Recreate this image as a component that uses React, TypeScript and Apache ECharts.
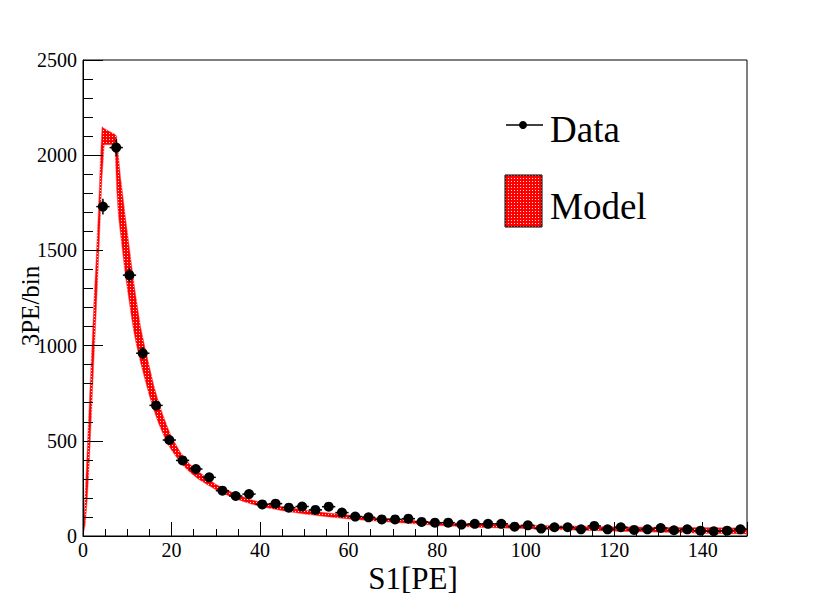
import React, { useEffect, useRef } from "react";
import * as echarts from "echarts";

// Data histogram (bin centres, counts)
const dataX = [4.5, 7.5, 10.5, 13.5, 16.5, 19.5, 22.5, 25.5, 28.5, 31.5, 34.5, 37.5, 40.5, 43.5, 46.5, 49.5, 52.5, 55.5, 58.5, 61.5, 64.5, 67.5, 70.5, 73.5, 76.5, 79.5, 82.5, 85.5, 88.5, 91.5, 94.5, 97.5, 100.5, 103.5, 106.5, 109.5, 112.5, 115.5, 118.5, 121.5, 124.5, 127.5, 130.5, 133.5, 136.5, 139.5, 142.5, 145.5, 148.5];
const dataY = [1730, 2040, 1370, 960, 686, 504, 397, 352, 308, 238, 210, 220, 166, 170, 149, 155, 137, 154, 123, 102, 98, 87, 87, 91, 74, 70, 70, 60, 64, 64, 64, 49, 56, 39, 46, 46, 35, 53, 35, 46, 32, 35, 42, 30, 35, 28, 25, 28, 35];
const binHalfWidth = 1.5;

// Model band (upper / lower envelopes)
const modelX = [0, 0.5, 1, 1.5, 2, 2.5, 3, 3.5, 4, 4.3, 4.8, 6, 7.2, 7.6, 8, 8.5, 9, 9.5, 10, 10.5, 11, 11.5, 12, 13, 14, 15, 16, 17, 18, 19, 20, 22, 24, 26, 28, 30, 32, 34, 36, 38, 40, 45, 50, 55, 60, 65, 70, 80, 90, 100, 110, 120, 130, 140, 150];
const modelUpper = [0, 230, 480, 740, 990, 1250, 1470, 1720, 2020, 2150, 2140, 2125, 2110, 2100, 2000, 1880, 1790, 1690, 1600, 1510, 1420, 1330, 1250, 1100, 990, 890, 790, 710, 640, 578, 520, 440, 380, 340, 305, 272, 248, 226, 207, 191, 178, 155, 137, 122, 110, 99, 90, 72, 63, 57, 53, 49, 46, 44, 42];
const modelLower = [0, 60, 200, 420, 680, 940, 1180, 1440, 1720, 1880, 2055, 2055, 2055, 1820, 1680, 1580, 1480, 1380, 1300, 1220, 1140, 1070, 1010, 910, 820, 735, 660, 595, 540, 490, 450, 385, 338, 300, 270, 243, 220, 200, 183, 168, 155, 133, 115, 101, 89, 80, 72, 55, 45, 38, 32, 25, 20, 14, 10];

// Axis ticks
const xMin = 0, xMax = 150, xMajor = 20, xMinor = 5;
const yMin = 0, yMax = 2500, yMajor = 500, yMinor = 100;

const FONT = "Liberation Serif";

export default function App() {
  const ref = useRef<HTMLDivElement>(null);
  useEffect(() => {
    if (!ref.current) return;
    document.body.style.margin = "0";
    const chart = echarts.init(ref.current, null, { renderer: "svg" });

    const svgTile =
      "data:image/svg+xml;utf8," +
      encodeURIComponent(
        "<svg xmlns='http://www.w3.org/2000/svg' width='3' height='3' shape-rendering='crispEdges'>" +
          "<rect x='0' y='0' width='3' height='3' fill='#ff0000'/>" +
          "<rect x='1' y='1' width='1' height='1' fill='#ffe0e0'/>" +
          "</svg>"
      );
    const pattern: any = { image: svgTile, repeat: "repeat", imageWidth: 3, imageHeight: 3 };

    const bandData = modelX.map((x, i) => [x, modelUpper[i], modelLower[i]]);
    const points = dataX.map((x, i) => [x, dataY[i]]);

    const tickLabel = { color: "#000", fontFamily: FONT, fontSize: 20, formatter: (v: number) => String(v) };

    chart.setOption({
      animation: false,
      backgroundColor: "#fff",
      grid: { left: 83, right: 83, top: 60, bottom: 60, show: true, borderColor: "#000", borderWidth: 1, backgroundColor: "transparent" },
      xAxis: [
        {
          type: "value", min: xMin, max: xMax, interval: xMajor, position: "bottom", z: 10,
          axisLine: { show: true, lineStyle: { color: "#000", width: 1 } },
          axisTick: { show: true, inside: true, length: 14, lineStyle: { color: "#000", width: 1 } },
          axisLabel: { ...tickLabel, margin: 4, formatter: (v: number) => (v === xMax ? "" : String(v)) },
          splitLine: { show: false },
        },
        {
          type: "value", min: xMin, max: xMax, interval: xMinor, position: "bottom", z: 10,
          axisLine: { show: false },
          axisTick: { show: true, inside: true, length: 7, lineStyle: { color: "#000", width: 1 } },
          axisLabel: { show: false },
          splitLine: { show: false },
        },
      ],
      yAxis: [
        {
          type: "value", min: yMin, max: yMax, interval: yMajor, position: "left", z: 10,
          axisLine: { show: true, lineStyle: { color: "#000", width: 1 } },
          axisTick: { show: true, inside: true, length: 20, lineStyle: { color: "#000", width: 1 } },
          axisLabel: { ...tickLabel, margin: 6 },
          splitLine: { show: false },
        },
        {
          type: "value", min: yMin, max: yMax, interval: yMinor, position: "left", z: 10,
          axisLine: { show: false },
          axisTick: { show: true, inside: true, length: 10, lineStyle: { color: "#000", width: 1 } },
          axisLabel: { show: false },
          splitLine: { show: false },
        },
      ],
      series: [
        {
          type: "custom", name: "Model", data: bandData, z: 2,
          encode: { x: 0, y: [1, 2] },
          clip: true,
          renderItem: (params: any, api: any) => {
            if (params.dataIndex !== 0) return null;
            const pts: number[][] = [];
            for (let i = 0; i < modelX.length; i++) pts.push(api.coord([modelX[i], modelUpper[i]]));
            for (let i = modelX.length - 1; i >= 0; i--) pts.push(api.coord([modelX[i], modelLower[i]]));
            return {
              type: "polygon",
              shape: { points: pts },
              style: { fill: pattern, stroke: "#ff5050", lineWidth: 0.5 },
            };
          },
        },
        {
          type: "custom", name: "errors", data: points, z: 4,
          encode: { x: 0, y: 1 },
          renderItem: (params: any, api: any) => {
            const x = api.value(0);
            const y = api.value(1);
            const e = Math.sqrt(y);
            const p = api.coord([x, y]);
            const pl = api.coord([x - binHalfWidth, y]);
            const pr = api.coord([x + binHalfWidth, y]);
            const pt = api.coord([x, y + e]);
            const pb = api.coord([x, y - e]);
            return {
              type: "group",
              children: [
                { type: "line", shape: { x1: pl[0], y1: p[1], x2: pr[0], y2: p[1] }, style: { stroke: "#000", lineWidth: 1.5 } },
                { type: "line", shape: { x1: p[0], y1: pt[1], x2: p[0], y2: pb[1] }, style: { stroke: "#000", lineWidth: 1.5 } },
              ],
            };
          },
        },
        {
          type: "scatter", name: "Data", data: points, symbol: "circle", symbolSize: 10,
          itemStyle: { color: "#000", opacity: 1 }, z: 5,
        },
      ],
      graphic: [
        { type: "line", shape: { x1: 506, y1: 125, x2: 543, y2: 125 }, style: { stroke: "#000", lineWidth: 1.5 } },
        { type: "circle", shape: { cx: 523, cy: 125, r: 4 }, style: { fill: "#000" } },
        { type: "text", x: 550, y: 129.5, style: { text: "Data", font: `37px '${FONT}'`, fill: "#000", textAlign: "left", textVerticalAlign: "middle" } },
        { type: "rect", shape: { x: 505, y: 175, width: 37, height: 52 }, style: { fill: pattern, stroke: "#000", lineWidth: 1 } },
        { type: "text", x: 550, y: 206, style: { text: "Model", font: `37px '${FONT}'`, fill: "#000", textAlign: "left", textVerticalAlign: "middle" } },
        { type: "text", x: 413, y: 578, style: { text: "S1[PE]", font: `31px '${FONT}'`, fill: "#000", textAlign: "center", textVerticalAlign: "middle" } },
        { type: "text", x: 30, y: 306, rotation: Math.PI / 2, style: { text: "3PE/bin", font: `25px '${FONT}'`, fill: "#000", textAlign: "center", textVerticalAlign: "middle" } },
      ],
    });
    return () => chart.dispose();
  }, []);
  return <div ref={ref} style={{ position: "fixed", left: 0, top: 0, width: 830, height: 596 }} />;
}
